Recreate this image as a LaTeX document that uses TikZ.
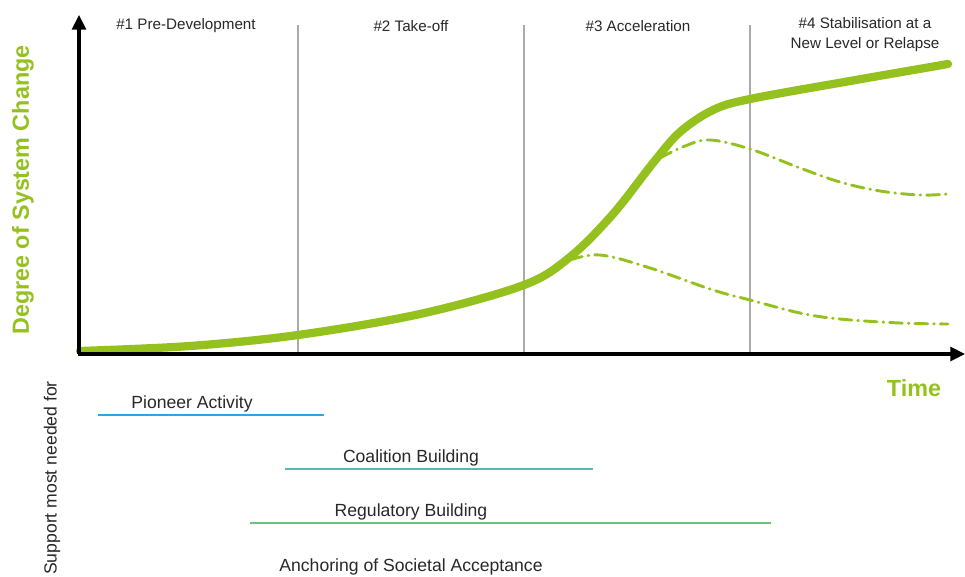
\documentclass[tikz,border=0pt]{standalone}
\usepackage{fontspec}
\setmainfont{Liberation Sans}
\usepackage{tikz}
\usetikzlibrary{arrows.meta}

\definecolor{lime}{RGB}{149, 193, 31}
\definecolor{phasegray}{RGB}{170, 170, 170}
\definecolor{pioneer}{RGB}{41, 168, 224}
\definecolor{coalition}{RGB}{77, 189, 179}
\definecolor{regulatory}{RGB}{108, 193, 127}
\definecolor{txt}{RGB}{40, 40, 40}

\newcommand{\phasefont}{\fontsize{11.4}{15}\selectfont}
\newcommand{\barfont}{\fontsize{13.2}{15}\selectfont}
\newcommand{\axisfont}{\fontsize{17.5}{20}\selectfont\bfseries}

\begin{document}
\begin{tikzpicture}[x = 0.75pt, y = -0.75pt,
	axis/.style = {line width = 2.3pt, black, -{Triangle[length = 11pt, width = 10.5pt]}},
	phase/.style = {line width = 1.1pt, phasegray},
	growth/.style = {line width = 6.2pt, lime, line cap = round, line join = round},
	relapse/.style = {line width = 2.2pt, lime, line cap = round, dash pattern = on 9.5pt off 4.5pt on 0.5pt off 4.5pt},
	phaselabel/.style = {txt, align = center, font = \phasefont},
	barlabel/.style = {txt, font = \barfont},
	axislabel/.style = {lime, font = \axisfont}]

	\useasboundingbox (0, 0) rectangle (965, 576);

	% phase dividers
	\draw[phase] (298, 25) -- (298, 354);
	\draw[phase] (524, 25) -- (524, 354);
	\draw[phase] (750, 25) -- (750, 354);

	\node[phaselabel] (pre) at (186, 26) {\#1 Pre-Development};
	\node[phaselabel] (takeoff) at (411, 26) {\#2 Take-off};
	\node[phaselabel] (accel) at (638, 26) {\#3 Acceleration};
	\node[phaselabel] (stab) at (865, 35) {\#4 Stabilisation at a\\New Level or Relapse};

	% relapse scenarios
	\draw[relapse] plot[smooth, tension = 0.6] coordinates {(660, 158) (685, 146) (710, 140) (750, 149) (800, 168) (840, 182) (880, 191) (920, 195) (948, 194)};
	\draw[relapse] plot[smooth, tension = 0.6] coordinates {(570, 260) (600, 255) (647, 267) (713, 290) (750, 300) (800, 313) (840, 319) (900, 323) (948, 324)};

	% main s-curve
	\draw[growth] plot[smooth, tension = 0.55] coordinates {(80, 351) (190, 346) (298, 335) (420, 314) (524, 285) (570, 257) (613, 214) (653, 163) (680, 132) (713, 110) (750, 99) (850, 81) (948, 64)};

	% axes
	\coordinate (origin) at (79, 354);
	\coordinate (ytop) at (79, 15);
	\coordinate (xend) at (965, 354);
	\draw[axis] (origin) -- (ytop);
	\draw[axis] ([xshift = -1.1pt] origin) -- (xend);

	\node[axislabel, rotate = 90] (ylab) at (23, 190) {Degree of System Change};
	\node[axislabel] (xlab) at (914, 388) {Time};

	% support bars
	\node[txt, rotate = 90, font = \barfont] (support) at (52, 478) {Support most needed for};

	\node[barlabel] (pioneer) at (192, 404) {Pioneer Activity};
	\draw[line width = 2.2pt, pioneer] (98, 415) -- (324, 415);

	\node[barlabel] (coalition) at (411, 458) {Coalition Building};
	\draw[line width = 2.2pt, coalition] (285, 469) -- (593, 469);

	\node[barlabel] (regulatory) at (411, 512) {Regulatory Building};
	\draw[line width = 2.2pt, regulatory] (250, 523) -- (771, 523);

	\node[barlabel] (anchoring) at (411, 567) {Anchoring of Societal Acceptance};

\end{tikzpicture}
\end{document}
